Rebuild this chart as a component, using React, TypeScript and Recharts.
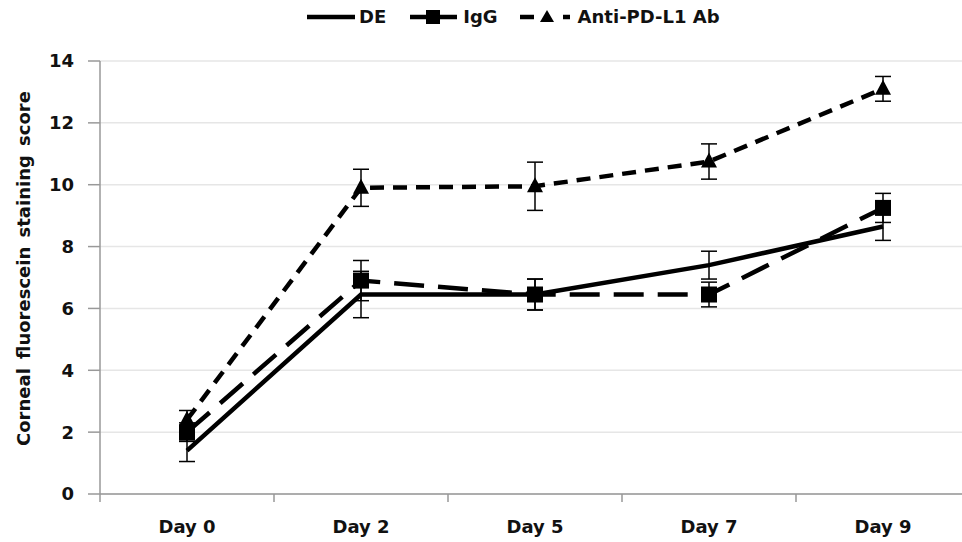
import React from 'react';
import {
  LineChart,
  Line,
  XAxis,
  YAxis,
  CartesianGrid,
  Legend,
  ErrorBar
} from 'recharts';

const days = ['Day 0', 'Day 2', 'Day 5', 'Day 7', 'Day 9'];
const deValues = [1.4, 6.45, 6.45, 7.4, 8.65];
const deErrors = [0.35, 0.75, 0.5, 0.45, 0.45];
const iggValues = [2.0, 6.9, 6.45, 6.45, 9.25];
const iggErrors = [0.3, 0.65, 0.5, 0.4, 0.47];
const antiValues = [2.4, 9.9, 9.95, 10.75, 13.1];
const antiErrors = [0.3, 0.6, 0.78, 0.57, 0.4];
const yTicks = [0, 2, 4, 6, 8, 10, 12, 14];

const data = days.map((day, i) => ({
  day,
  de: deValues[i],
  deErr: deErrors[i],
  igg: iggValues[i],
  iggErr: iggErrors[i],
  anti: antiValues[i],
  antiErr: antiErrors[i]
}));

const FONT = '"DejaVu Sans", Arial, sans-serif';

const SquareDot = (props: any) => {
  const { cx, cy } = props;
  if (cx == null || cy == null) return null;
  return <rect x={cx - 8} y={cy - 8} width={16} height={16} fill="#000" />;
};

const TriangleDot = (props: any) => {
  const { cx, cy } = props;
  if (cx == null || cy == null) return null;
  return (
    <polygon
      points={`${cx},${cy - 9} ${cx + 8},${cy + 6} ${cx - 8},${cy + 6}`}
      fill="#000"
    />
  );
};

// label in the middle of the band, tick mark on the band boundary
const DayTick = (props: any) => {
  const { x, y, payload } = props;
  const off = payload.offset ?? 0;
  return (
    <g>
      <line x1={x - off} y1={y - 8} x2={x - off} y2={y} stroke="#999" strokeWidth={1.5} />
      <text
        x={x}
        y={y + 31}
        textAnchor="middle"
        fontFamily={FONT}
        fontWeight="bold"
        fontSize={18}
        fill="#111"
      >
        {payload.value}
      </text>
    </g>
  );
};

const LegendBox = () => {
  const text = { fontFamily: FONT, fontWeight: 700, fontSize: 18, color: '#111' };
  return (
    <div style={{ position: 'absolute', left: 307, top: 0, display: 'flex', alignItems: 'center' }}>
      <svg width={49} height={20}>
        <line x1={0} y1={10} x2={48} y2={10} stroke="#000" strokeWidth={4.5} />
      </svg>
      <span style={{ ...text, marginLeft: 3 }}>DE</span>
      <svg width={50} height={20} style={{ marginLeft: 24 }}>
        <line x1={0} y1={10} x2={47} y2={10} stroke="#000" strokeWidth={4.5} />
        <rect x={16} y={3} width={14} height={14} fill="#000" />
      </svg>
      <span style={{ ...text, marginLeft: 3 }}>IgG</span>
      <svg width={55} height={20} style={{ marginLeft: 22 }}>
        <line x1={0} y1={10} x2={14} y2={10} stroke="#000" strokeWidth={4.5} />
        <polygon points="27,3 34,15 20,15" fill="#000" />
        <line x1={43} y1={10} x2={50} y2={10} stroke="#000" strokeWidth={4.5} />
      </svg>
      <span style={{ ...text, marginLeft: 3 }}>Anti-PD-L1 Ab</span>
    </div>
  );
};

const YLabel = (props: any) => {
  const { viewBox } = props;
  const cx = 23;
  const cy = viewBox.y + viewBox.height / 2 - 9;
  return (
    <text
      x={cx}
      y={cy}
      transform={`rotate(-90 ${cx} ${cy})`}
      textAnchor="middle"
      dominantBaseline="central"
      fontFamily={FONT}
      fontWeight="bold"
      fontSize={18}
      wordSpacing={3}
      fill="#111"
    >
      Corneal fluorescein staining score
    </text>
  );
};

export default function App() {
  return (
    <div
      style={{
        position: 'absolute',
        left: 0,
        top: 0,
        width: 962,
        height: 542,
        overflow: 'hidden',
        background: '#fff'
      }}
    >
      <LineChart
        width={980}
        height={542}
        data={data}
        margin={{ top: 31, right: 10, bottom: 0, left: 0 }}
      >
        <CartesianGrid vertical={false} stroke="#e6e6e6" strokeWidth={1.5} />
        <XAxis
          dataKey="day"
          scale="band"
          stroke="#999"
          strokeWidth={1.5}
          tickLine={false}
          tickSize={8}
          tickMargin={0}
          height={48}
          tick={<DayTick />}
          interval={0}
        />
        <YAxis
          domain={[0, 14]}
          ticks={yTicks}
          width={100}
          stroke="#999"
          strokeWidth={1.5}
          tickSize={12}
          tickMargin={14}
          tick={{ fontFamily: FONT, fontWeight: 'bold', fontSize: 18, fill: '#111' }}
          label={<YLabel />}
        />
        <Legend
          verticalAlign="top"
          height={30}
          wrapperStyle={{ top: 6, left: 0, width: 962, height: 30 }}
          content={<LegendBox />}
        />
        <Line
          dataKey="de"
          name="DE"
          stroke="#000"
          strokeWidth={4.5}
          dot={false}
          activeDot={false}
          isAnimationActive={false}
        >
          <ErrorBar dataKey="deErr" width={8} stroke="#000" strokeWidth={1.5} />
        </Line>
        <Line
          dataKey="igg"
          name="IgG"
          stroke="#000"
          strokeWidth={4.5}
          strokeDasharray="30 14"
          dot={<SquareDot />}
          activeDot={false}
          isAnimationActive={false}
        >
          <ErrorBar dataKey="iggErr" width={8} stroke="#000" strokeWidth={1.5} />
        </Line>
        <Line
          dataKey="anti"
          name="Anti-PD-L1 Ab"
          stroke="#000"
          strokeWidth={4.5}
          strokeDasharray="14 9"
          dot={<TriangleDot />}
          activeDot={false}
          isAnimationActive={false}
        >
          <ErrorBar dataKey="antiErr" width={8} stroke="#000" strokeWidth={1.5} />
        </Line>
      </LineChart>
    </div>
  );
}
